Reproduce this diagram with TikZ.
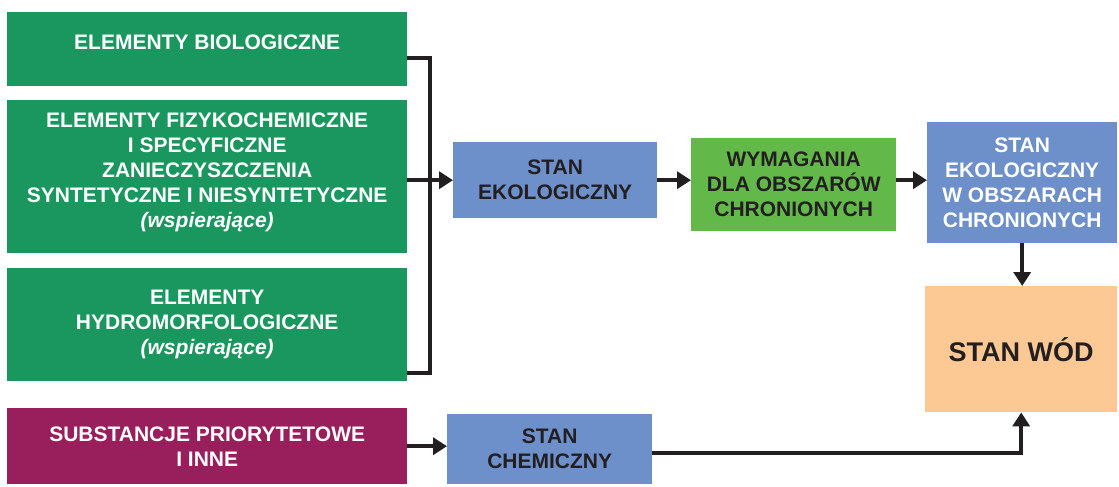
\documentclass[tikz,border=0pt]{standalone}
\usepackage{fontspec}
\setmainfont{Liberation Sans}
\usetikzlibrary{arrows.meta,calc,positioning}
\definecolor{zielen}{RGB}{26,151,94}
\definecolor{jasnozielen}{RGB}{98,184,72}
\definecolor{niebieski}{RGB}{109,143,202}
\definecolor{pomarancz}{RGB}{252,201,149}
\definecolor{purpura}{RGB}{152,30,92}
\definecolor{linia}{RGB}{35,31,32}
\tikzset {
  >={Triangle[length=14pt,width=17pt]},
  every node/.style={font=\fontsize{21}{25}\selectfont\bfseries},
  box/.style={inner sep=0pt,align=center,anchor=north west},
  conn/.style={line width=4pt,draw=linia},
}

\begin{document}
\begin{tikzpicture}[x=1pt,y=-1pt]
          \useasboundingbox (0,0) rectangle (1119,487);

          \node[box,fill=zielen,text=white,minimum width=400pt,minimum height=74pt,
                text height=14pt,text depth=14pt] (bio) at (7,12) {ELEMENTY BIOLOGICZNE};
          \node[box,fill=zielen,text=white,minimum width=400pt,minimum height=153pt,
                text depth=14pt] (fiz) at (7,100)
            {ELEMENTY FIZYKOCHEMICZNE\\I SPECYFICZNE\\ZANIECZYSZCZENIA\\SYNTETYCZNE I NIESYNTETYCZNE\\\textit{(wspierające)}};
          \node[box,fill=zielen,text=white,minimum width=400pt,minimum height=113pt] (hydro) at (7,268)
            {ELEMENTY\\HYDROMORFOLOGICZNE\\\textit{(wspierające)}};
          \node[box,fill=purpura,text=white,minimum width=400pt,minimum height=76pt] (subst) at (7,408)
            {SUBSTANCJE PRIORYTETOWE\\I INNE};

          \node[box,fill=niebieski,text=linia,minimum width=204pt,minimum height=76pt] (ekol) at (453,142)
            {STAN\\EKOLOGICZNY};
          \node[box,fill=jasnozielen,text=linia,minimum width=205pt,minimum height=93pt] (wym) at (691,138)
            {WYMAGANIA\\DLA OBSZARÓW\\CHRONIONYCH};
          \node[box,fill=niebieski,text=white,minimum width=190pt,minimum height=121pt] (obsz) at (927,122)
            {STAN\\EKOLOGICZNY\\W OBSZARACH\\CHRONIONYCH};
          \node[box,fill=pomarancz,text=linia,minimum width=192pt,minimum height=126pt,
                font=\fontsize{27}{30}\selectfont\bfseries] (wody) at (925,286) {STAN WÓD};
          \node[box,fill=niebieski,text=linia,minimum width=205pt,minimum height=70pt] (chem) at (447,414)
            {STAN\\CHEMICZNY};

          % klamra
          \coordinate (brtop) at (430,58);
          \coordinate (brbot) at (430,373);
          \draw[conn] (bio.east |- brtop) -- (brtop) -- (brbot) -- (hydro.east |- brbot);
          \draw[conn] (fiz.east |- ekol.west) -- (brtop |- ekol.west);
          \draw[conn,->] (brtop |- ekol.west) -- (ekol.west);

          \draw[conn,->] (ekol.east) -- (wym.west |- ekol.east);
          \draw[conn,->] (wym.east |- ekol.east) -- (obsz.west |- ekol.east);
          \draw[conn,->] (obsz.south) -- (obsz.south |- wody.north);

          \coordinate (chemout) at (652,453);
          \draw[conn,->] (subst.east) -- (chem.west |- subst.east);
          \draw[conn,->] (chemout) -| (wody.south);
        \end{tikzpicture}
\end{document}
